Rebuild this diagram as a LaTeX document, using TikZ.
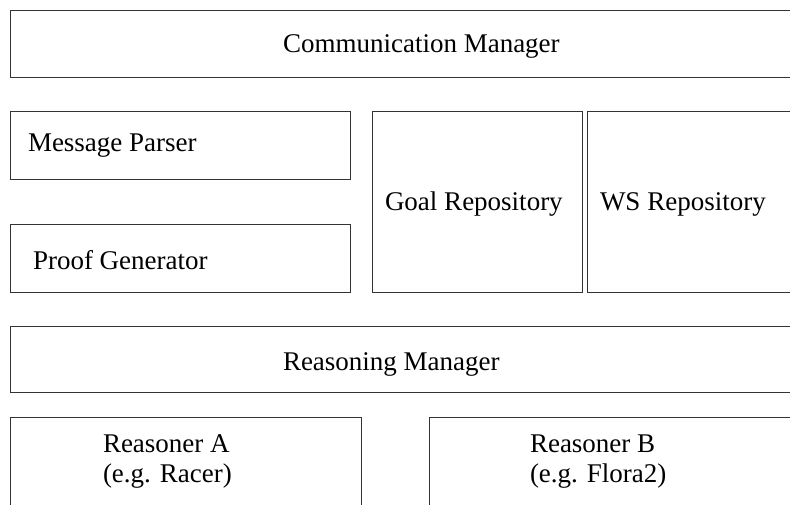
\documentclass[tikz,border=0pt]{standalone}
\usepackage{fontspec}
\setmainfont{Liberation Serif}
\begin{document}
\begin{tikzpicture}[x=1pt,y=1pt,
  box/.style={draw=black!80, line width=0.9pt, rectangle, inner sep=0pt, outer sep=0pt},
  lbl/.style={inner sep=0pt, outer sep=0pt, anchor=base west, font=\fontsize{27}{31}\selectfont}]
  \useasboundingbox (0,0) rectangle (790,504);
  \clip (0,0) rectangle (790,504);
  % blocks (some run off the right and bottom edges)
  \node[box, minimum width=790pt, minimum height=67pt] (comm) at (405,460.5) {};
  \node[box, minimum width=340pt, minimum height=68pt] (parser) at (180,359) {};
  \node[box, minimum width=340pt, minimum height=68pt] (proof) at (180,246) {};
  \node[box, minimum width=210pt, minimum height=181pt] (goal) at (477,302.5) {};
  \node[box, minimum width=213pt, minimum height=181pt] (ws) at (693.5,302.5) {};
  \node[box, minimum width=790pt, minimum height=66pt] (reason) at (405,145) {};
  \node[box, minimum width=351pt, minimum height=103pt] (ra) at (185.5,35.5) {};
  \node[box, minimum width=371pt, minimum height=103pt] (rb) at (614.5,35.5) {};
  % labels
  \node[lbl] (commT) at (283,451) {Communication Manager};
  \node[lbl] (parserT) at (28,352) {Message Parser};
  \node[lbl] (proofT) at (33,234) {Proof Generator};
  \node[lbl] (goalT) at (385,293) {Goal Repository};
  \node[lbl] (wsT) at (600,293) {WS Repository};
  \node[lbl] (reasonT) at (283,134) {Reasoning Manager};
  \node[lbl] (raT1) at (103,52) {Reasoner A};
  \node[lbl] (raT2) at (103,22) {(e.g. Racer)};
  \node[lbl] (rbT1) at (530,52) {Reasoner B};
  \node[lbl] (rbT2) at (530,22) {(e.g. Flora2)};
\end{tikzpicture}
\end{document}
